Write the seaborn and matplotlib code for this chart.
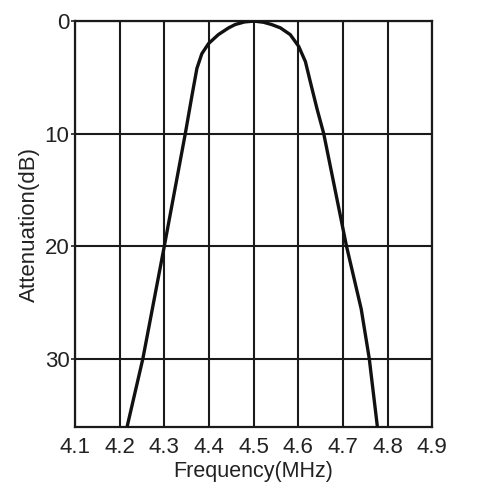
import matplotlib
matplotlib.use("Agg")
import matplotlib.pyplot as plt
import seaborn as sns
import pandas as pd

# Data
freq_mhz = [4.217, 4.252, 4.300, 4.347, 4.362, 4.373, 4.384, 4.399, 4.421, 4.444,
            4.459, 4.480, 4.501, 4.522, 4.540, 4.560, 4.582, 4.601, 4.616, 4.627,
            4.642, 4.657, 4.708, 4.741, 4.759, 4.777]
atten_db = [36.0, 30.0, 20.0, 10.0, 6.6, 4.2, 2.9, 2.0, 1.2, 0.6,
            0.3, 0.07, 0.0, 0.1, 0.3, 0.6, 1.2, 2.25, 3.6, 5.4,
            7.8, 10.0, 20.0, 25.6, 30.0, 36.0]
x_ticks = [4.1, 4.2, 4.3, 4.4, 4.5, 4.6, 4.7, 4.8, 4.9]
y_ticks = [0, 10, 20, 30]

sns.set_theme(style="white")
plt.rcParams['font.family'] = ['Liberation Sans', 'DejaVu Sans']

df = pd.DataFrame({"Frequency": freq_mhz, "Attenuation": atten_db})

fig = plt.figure(figsize=(4.84, 4.91), dpi=100)
ax = fig.add_axes([0.155, 0.130, 0.738, 0.827])

sns.lineplot(data=df, x="Frequency", y="Attenuation", sort=False, color="#111111",
             linewidth=2.4, ax=ax, zorder=3)

ax.set_xlim(4.1, 4.9)
ax.set_ylim(36.1, 0)
ax.set_xticks(x_ticks)
ax.set_xticklabels([f"{v:.1f}" for v in x_ticks])
ax.set_yticks(y_ticks)
ax.set_yticklabels([str(v) for v in y_ticks])

ax.grid(True, color="#1a1a1a", linewidth=1.5)
for s in ax.spines.values():
    s.set_color("#1a1a1a")
    s.set_linewidth(1.6)

ax.tick_params(axis="x", length=0, pad=7, labelsize=16, colors="#222222")
ax.tick_params(axis="y", length=3, width=1.2, direction="out", left=True, pad=1,
               labelsize=16, colors="#222222")

ax.set_xlabel("Frequency(MHz)", fontsize=15.5, color="#222222", labelpad=2)
ax.set_ylabel("Attenuation(dB)", fontsize=16, color="#222222", labelpad=3)

fig.savefig("out.png", dpi=100)
